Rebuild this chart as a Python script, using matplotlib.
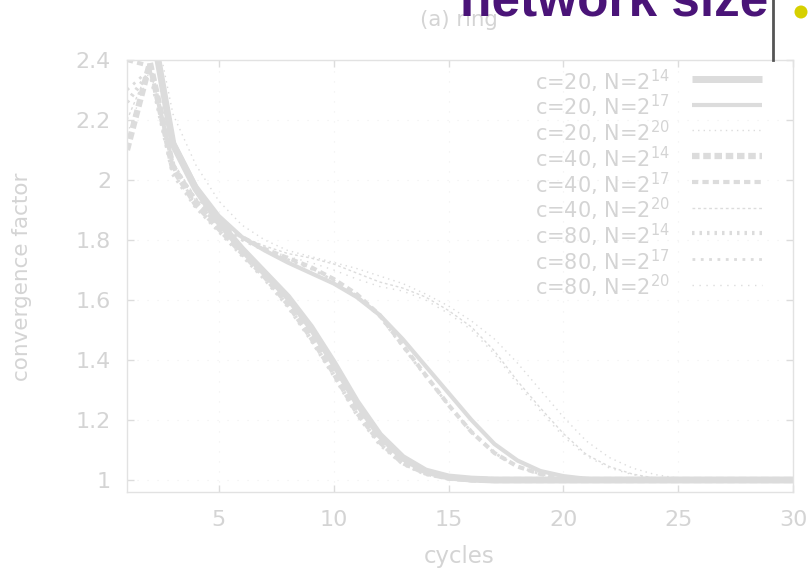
import matplotlib
matplotlib.use("Agg")
import matplotlib.pyplot as plt
from matplotlib.patches import Ellipse
from matplotlib.lines import Line2D

plt.rcParams['font.family'] = ['DejaVu Sans']
plt.rcParams['mathtext.fontset'] = 'dejavusans'

cycles = list(range(1, 31))

def tail(vals):
    return vals + [1.0] * (30 - len(vals))

c20_n14 = tail([2.45, 2.55, 2.12, 1.97, 1.86, 1.77, 1.69, 1.61, 1.51, 1.39, 1.26, 1.15, 1.075, 1.03, 1.01, 1.003])
c20_n17 = tail([2.45, 2.55, 2.13, 1.98, 1.88, 1.81, 1.765, 1.725, 1.69, 1.655, 1.61, 1.55, 1.47, 1.38, 1.29, 1.20, 1.12, 1.065, 1.03, 1.013, 1.004])
c20_n20 = tail([2.45, 2.60, 2.22, 2.05, 1.93, 1.85, 1.80, 1.765, 1.745, 1.725, 1.705, 1.68, 1.655, 1.62, 1.58, 1.53, 1.47, 1.39, 1.30, 1.21, 1.13, 1.075, 1.04, 1.018, 1.006])
c40_n14 = tail([2.10, 2.39, 2.04, 1.92, 1.84, 1.76, 1.68, 1.59, 1.48, 1.36, 1.23, 1.13, 1.06, 1.025, 1.008, 1.002])
c40_n17 = tail([2.40, 2.38, 2.05, 1.93, 1.86, 1.81, 1.77, 1.74, 1.71, 1.67, 1.62, 1.55, 1.45, 1.35, 1.25, 1.16, 1.09, 1.045, 1.02, 1.007, 1.002])
c40_n20 = tail([2.20, 2.38, 2.06, 1.94, 1.87, 1.81, 1.78, 1.755, 1.74, 1.72, 1.69, 1.66, 1.64, 1.61, 1.565, 1.51, 1.43, 1.33, 1.24, 1.155, 1.085, 1.045, 1.02, 1.006])
c80_n14 = tail([2.26, 2.36, 2.02, 1.91, 1.83, 1.75, 1.67, 1.58, 1.47, 1.35, 1.22, 1.12, 1.055, 1.02, 1.006])
c80_n17 = tail([2.30, 2.37, 2.04, 1.92, 1.85, 1.80, 1.765, 1.735, 1.705, 1.665, 1.615, 1.545, 1.445, 1.345, 1.25, 1.16, 1.09, 1.045, 1.02, 1.007])
c80_n20 = tail([2.15, 2.37, 2.05, 1.93, 1.86, 1.80, 1.77, 1.745, 1.725, 1.70, 1.67, 1.645, 1.63, 1.60, 1.555, 1.50, 1.42, 1.32, 1.23, 1.145, 1.08, 1.04, 1.018, 1.005])

labels = [r'c=20, N=$2^{14}$', r'c=20, N=$2^{17}$', r'c=20, N=$2^{20}$',
          r'c=40, N=$2^{14}$', r'c=40, N=$2^{17}$', r'c=40, N=$2^{20}$',
          r'c=80, N=$2^{14}$', r'c=80, N=$2^{17}$', r'c=80, N=$2^{20}$']
series = [c20_n14, c20_n17, c20_n20, c40_n14, c40_n17, c40_n20, c80_n14, c80_n17, c80_n20]

xticks = [5, 10, 15, 20, 25, 30]
yticks = [1, 1.2, 1.4, 1.6, 1.8, 2, 2.2, 2.4]
ytick_labels = ['1', '1.2', '1.4', '1.6', '1.8', '2', '2.2', '2.4']

gray = '#dcdcdc'
txt = '#d4d4d4'
styles = [
    dict(lw=5.0, ls='-'),
    dict(lw=3.0, ls='-'),
    dict(lw=1.0, ls=(0, (1, 3))),
    dict(lw=4.5, ls=(0, (1.2, 0.6))),
    dict(lw=3.0, ls=(0, (1.5, 1.0))),
    dict(lw=1.0, ls=(0, (2, 2))),
    dict(lw=3.0, ls=(0, (0.6, 1.2))),
    dict(lw=2.0, ls=(0, (1, 2))),
    dict(lw=1.0, ls=(0, (1, 4))),
]

W, H = 811, 573
fig = plt.figure(figsize=(W/100, H/100), dpi=100)
ax = fig.add_axes([127/W, 1-492/H, (793-127)/W, (492-60)/H])

for vals, lab, st in zip(series, labels, styles):
    ax.plot(cycles, vals, color=gray, label=lab, solid_capstyle='butt', **st)

ax.set_xlim(1, 30)
ax.set_ylim(0.96, 2.4)
ax.set_xticks(xticks)
ax.set_yticks(yticks)
ax.set_yticklabels(ytick_labels)
ax.tick_params(direction='in', top=True, right=True, colors=gray, labelcolor=txt,
               labelsize=16, length=5, width=1)
ax.tick_params(axis='x', pad=13)
ax.tick_params(axis='y', pad=11.5)
for s in ax.spines.values():
    s.set_color('#e2e2e2')
    s.set_linewidth(1)
ax.grid(True, color='#f0f0f0', ls=(0, (1, 8)), lw=0.8)

fig.text(459/W, 1-557/H, 'cycles', color=txt, fontsize=16.5, ha='center', va='center')
fig.text(22/W, 1-277/H, 'convergence factor', color=txt, fontsize=15.5, ha='center',
         va='center', rotation=90)

# legend (gnuplot style: text left, sample right)
for i, (lab, st) in enumerate(zip(labels, styles)):
    yb = 90 + 25.7 * i
    fig.text(535/W, 1-yb/H, lab, color=txt, fontsize=15, ha='left', va='baseline')
    yl = yb - 11
    fig.add_artist(Line2D([692/W, 762/W], [1-yl/H, 1-yl/H], color=gray,
                          solid_capstyle='butt', transform=fig.transFigure, **st))

fig.text(459/W, 1-20/H, '(a) ring', color=txt, fontsize=15.3, ha='center', va='center')

# overlay
fig.text(768/W, 1-15/H, 'network size', color='#4a1478', fontsize=37,
         fontweight='bold', family='Liberation Sans', ha='right', va='baseline')
fig.add_artist(Line2D([773/W, 773/W], [1-60/H, 1.0], color='#555555', lw=2,
                      transform=fig.transFigure))
fig.add_artist(Ellipse((801/W, 1-12/H), 13/W, 13/H, transform=fig.transFigure,
                       color='#d6d000', ec='none'))

fig.savefig('out.png', dpi=100)
